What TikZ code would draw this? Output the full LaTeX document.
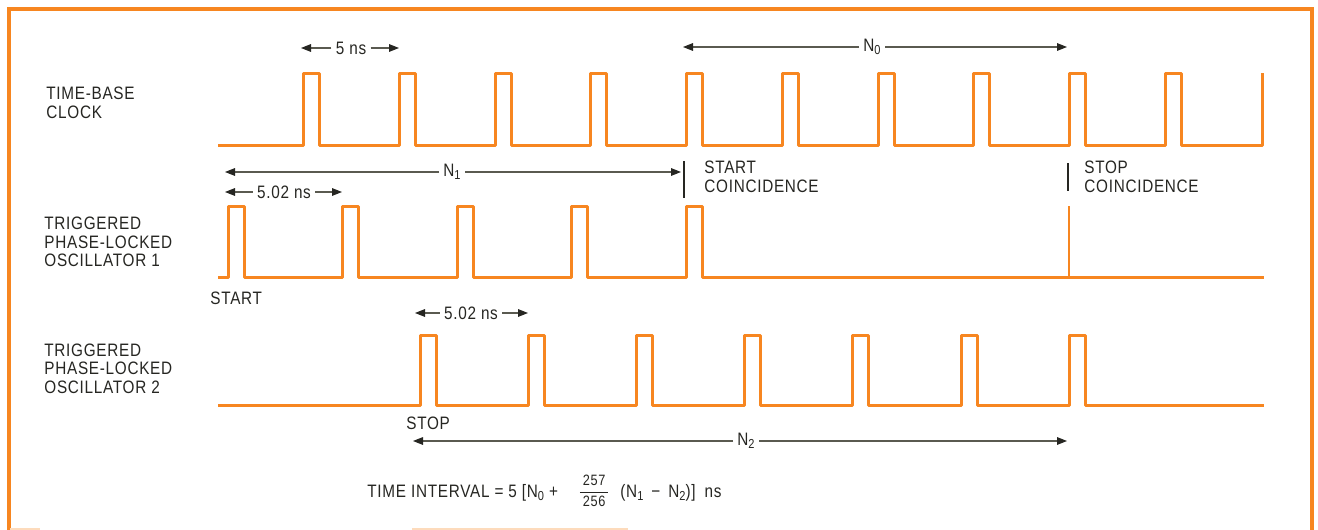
\documentclass[tikz,border=0pt]{standalone}
\usepackage{fontspec}
\setmainfont{Liberation Sans}[FakeStretch=0.85,LetterSpace=4]
\usetikzlibrary{arrows.meta}
\definecolor{wave}{RGB}{247,134,32}
\definecolor{ink}{RGB}{38,38,34}
\definecolor{dimline}{RGB}{90,90,80}
\newcommand\sbs[1]{\raisebox{-0.35ex}{\fontsize{6.5}{6.5}\selectfont #1}}
\newcommand\vfrac[2]{\ensuremath{\vcenter{\hbox{\fontsize{7.5}{7.5}\selectfont\begin{tabular}{@{\hspace{1.5pt}}c@{\hspace{1.5pt}}}#1\\[1pt]\hline\rule{0pt}{7pt}#2\end{tabular}}}}}
\begin{document}
\begin{tikzpicture}[x=0.5pt,y=-0.5pt,
  wavepath/.style={draw=wave,line width=1.5pt,line join=round},
  lab/.style={font=\fontsize{9}{9.25}\selectfont,text=ink,inner sep=0pt,align=left,anchor=west},
  dim/.style={draw=dimline,line width=0.55pt,-{Triangle[length=5pt,width=3.8pt,color=ink]}},
  cotick/.style={draw=ink,line width=0.6pt},
  dimlab/.style={font=\fontsize{9}{9}\selectfont,text=ink,inner sep=2pt}
]
\fill[white] (0,0) rectangle (1318,530);
\useasboundingbox (0,0) rectangle (1318,530);

% frame
\draw[draw=wave,line width=1.8pt] (9,532) -- (9,9) -- (1312,9) -- (1312,532);
\draw[wave!30,line width=1.5pt] (10,529) -- (40,529);
\draw[wave!30,line width=1.5pt] (412,529) -- (628,529);

% waveforms
\draw[wavepath] (218,145) foreach \i in {0,...,9} { -- ({303.5+95.75*\i},145) -- ++(0,-72) -- ++(16,0) -- ++(0,72) } -- (1262,145) -- (1262,73);
\draw[wavepath] (218,277) foreach \i in {0,...,4} { -- ({228+114.6*\i},277) -- ++(0,-71) -- ++(16,0) -- ++(0,71) } -- (1264,277);
\draw[draw=wave,line width=1pt] (1069,277) -- (1069,206);
\draw[wavepath] (218,405) foreach \i in {0,...,6} { -- ({420+108.2*\i},405) -- ++(0,-70) -- ++(16,0) -- ++(0,70) } -- (1264,405);

% labels
\node[lab] (tbc) at (46,102.8) {TIME-BASE\\CLOCK};
\node[lab] (tpo1) at (44,242) {TRIGGERED\\PHASE-LOCKED\\OSCILLATOR 1};
\node[lab] (tpo2) at (44,368.5) {TRIGGERED\\PHASE-LOCKED\\OSCILLATOR 2};
\node[lab] (startc) at (704,177) {START\\COINCIDENCE};
\node[lab] (stopc) at (1084,177) {STOP\\COINCIDENCE};
\node[lab] (start) at (210,298) {START};
\node[lab] (stop) at (406,423) {STOP};
\node[lab] (formula) at (367,493) {TIME INTERVAL = 5 [N\sbs{0} +\hspace{11pt}\vfrac{257}{256}\hspace{6pt}(N\sbs{1}\hspace{1.5pt} − \hspace{1.5pt}N\sbs{2})]\hspace{2pt} ns};

% coincidence ticks
\coordinate (sct) at (684,161); \coordinate (scb) at (684,198);
\draw[cotick] (sct) -- (scb);
\coordinate (stt) at (1068,163); \coordinate (stb) at (1068,191);
\draw[cotick] (stt) -- (stb);

% dimension arrows
\node[dimlab] (fiveNs) at (351,48) {5 ns};
\coordinate (fiveL) at (301,48); \coordinate (fiveR) at (399,48);
\draw[dim] (fiveNs) -- (fiveL); \draw[dim] (fiveNs) -- (fiveR);

\node[dimlab] (nzero) at (872,47) {N\sbs{0}};
\coordinate (nzL) at (683,47); \coordinate (nzR) at (1067,47);
\draw[dim] (nzero) -- (nzL); \draw[dim] (nzero) -- (nzR);

\node[dimlab] (none) at (452,172) {N\sbs{1}};
\coordinate (n1L) at (225,172); \coordinate (n1R) at (681,172);
\draw[dim] (none) -- (n1L); \draw[dim] (none) -- (n1R);

\node[dimlab] (pa) at (284,192) {5.02 ns};
\coordinate (paL) at (225,192); \coordinate (paR) at (342,192);
\draw[dim] (pa) -- (paL); \draw[dim] (pa) -- (paR);

\node[dimlab] (pb) at (471,313) {5.02 ns};
\coordinate (pbL) at (415,313); \coordinate (pbR) at (528,313);
\draw[dim] (pb) -- (pbL); \draw[dim] (pb) -- (pbR);

\node[dimlab] (ntwo) at (746,441) {N\sbs{2}};
\coordinate (n2L) at (413,441); \coordinate (n2R) at (1067,441);
\draw[dim] (ntwo) -- (n2L); \draw[dim] (ntwo) -- (n2R);
\end{tikzpicture}
\end{document}
